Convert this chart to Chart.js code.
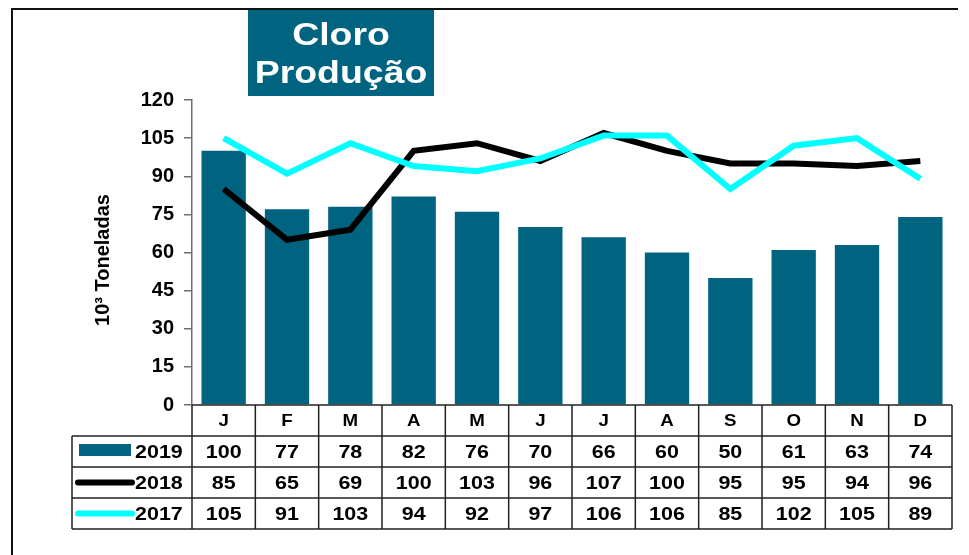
<!DOCTYPE html>
<html>
<head>
<meta charset="utf-8">
<script src="https://cdn.jsdelivr.net/npm/chart.js@4"></script>
<style>
  html, body { margin: 0; padding: 0; background: #fff; }
  #wrap { width: 969px; height: 555px; }
</style>
</head>
<body>
<div id="wrap"><canvas id="c" width="969" height="555"></canvas></div>
<script>
// Cloro - Produção (10³ toneladas)
const months = ['J', 'F', 'M', 'A', 'M', 'J', 'J', 'A', 'S', 'O', 'N', 'D'];
const prod2019 = [100, 77, 78, 82, 76, 70, 66, 60, 50, 61, 63, 74];
const prod2018 = [85, 65, 69, 100, 103, 96, 107, 100, 95, 95, 94, 96];
const prod2017 = [105, 91, 103, 94, 92, 97, 106, 106, 85, 102, 105, 89];
const yTicks = [0, 15, 30, 45, 60, 75, 90, 105, 120];

const TEAL = '#00637f';
const CYAN = '#00ffff';
const FONT = "'Liberation Sans', Arial, sans-serif";

// draws text with a horizontal stretch (the source picture is a bit wide)
function txt(ctx, s, x, y, size, sx, align) {
  ctx.save();
  ctx.translate(x, y);
  ctx.scale(sx, 1);
  ctx.font = 'bold ' + size + 'px ' + FONT;
  ctx.textAlign = align || 'center';
  ctx.textBaseline = 'middle';
  ctx.fillText(s, 0, 0);
  ctx.restore();
}

const extras = {
  id: 'extras',
  beforeDraw(chart) {
    const ctx = chart.ctx;
    // outer frame (top + left)
    ctx.save();
    ctx.strokeStyle = '#111';
    ctx.lineWidth = 2;
    ctx.beginPath();
    ctx.moveTo(12, 555);
    ctx.lineTo(12, 9);
    ctx.lineTo(958, 9);
    ctx.stroke();
    ctx.restore();
  },
  afterDraw(chart) {
    const ctx = chart.ctx;
    const ca = chart.chartArea;
    const xs = chart.scales.x;
    const w = (ca.right - ca.left) / months.length;
    const tL = 72, rowH = 31, top = ca.bottom;

    // title box
    ctx.save();
    ctx.fillStyle = TEAL;
    ctx.fillRect(248, 10, 186, 86);
    ctx.fillStyle = '#fff';
    txt(ctx, 'Cloro', 341, 36, 32, 1.17);
    txt(ctx, 'Produção', 341, 74, 32, 1.17);

    // y axis title
    ctx.fillStyle = '#000';
    ctx.save();
    ctx.translate(103, 260);
    ctx.rotate(-Math.PI / 2);
    ctx.font = 'bold 20px ' + FONT;
    ctx.textAlign = 'center';
    ctx.textBaseline = 'middle';
    ctx.fillText('10³ Toneladas', 0, 0);
    ctx.restore();

    // data table grid
    ctx.strokeStyle = '#222';
    ctx.lineWidth = 1.5;
    ctx.beginPath();
    ctx.moveTo(ca.left, top); ctx.lineTo(ca.right, top);
    for (let r = 1; r <= 4; r++) {
      ctx.moveTo(tL, top + r * rowH); ctx.lineTo(ca.right, top + r * rowH);
    }
    ctx.moveTo(tL, top + rowH); ctx.lineTo(tL, top + 4 * rowH);
    for (let i = 0; i <= months.length; i++) {
      const x = ca.left + i * w;
      ctx.moveTo(x, top); ctx.lineTo(x, top + 4 * rowH);
    }
    ctx.stroke();

    // legend keys
    ctx.fillStyle = TEAL;
    ctx.fillRect(79, top + rowH + 8, 52, 12);
    ctx.lineCap = 'round';
    ctx.lineWidth = 6;
    ctx.strokeStyle = '#000';
    ctx.beginPath(); ctx.moveTo(78, top + 2.5 * rowH); ctx.lineTo(132, top + 2.5 * rowH); ctx.stroke();
    ctx.strokeStyle = CYAN;
    ctx.beginPath(); ctx.moveTo(78, top + 3.5 * rowH); ctx.lineTo(132, top + 3.5 * rowH); ctx.stroke();

    ctx.fillStyle = '#000';
    const rows = [['2019', prod2019], ['2018', prod2018], ['2017', prod2017]];
    rows.forEach(([lab, vals], r) => {
      const cy = top + (r + 1.5) * rowH + 1;
      txt(ctx, lab, 135, cy, 19, 1.13, 'left');
      vals.forEach((v, i) => txt(ctx, String(v), xs.getPixelForValue(i), cy, 19, 1.13));
    });
    months.forEach((m, i) => txt(ctx, m, xs.getPixelForValue(i), top + rowH / 2 + 1, 17, 1.1));
    ctx.restore();
  }
};

new Chart(document.getElementById('c'), {
  type: 'bar',
  data: {
    labels: months,
    datasets: [
      { type: 'bar', label: '2019', data: prod2019, backgroundColor: TEAL, borderWidth: 0,
        categoryPercentage: 0.7, barPercentage: 1, order: 3 },
      { type: 'line', label: '2018', data: prod2018, borderColor: '#000', borderWidth: 6,
        pointRadius: 0, tension: 0, fill: false, order: 2 },
      { type: 'line', label: '2017', data: prod2017, borderColor: CYAN, borderWidth: 6,
        pointRadius: 0, tension: 0, fill: false, order: 1 }
    ]
  },
  options: {
    responsive: false,
    animation: false,
    layout: { padding: { left: 0, top: 100, right: 17, bottom: 150 } },
    plugins: { legend: { display: false }, tooltip: { enabled: false } },
    scales: {
      x: { display: false, offset: true },
      y: {
        min: 0, max: 120,
        afterFit(s) { s.width = 192; },
        afterBuildTicks(s) { s.ticks = yTicks.map(v => ({ value: v })); },
        ticks: { color: '#000', padding: 10, font: { family: FONT, size: 20, weight: 'bold' } },
        grid: { drawOnChartArea: false, drawTicks: true, tickLength: 8, color: '#6f6f6f', lineWidth: 1.5 },
        border: { color: '#6f6f6f', width: 1.5 }
      }
    }
  },
  plugins: [extras]
});
</script>
</body>
</html>
